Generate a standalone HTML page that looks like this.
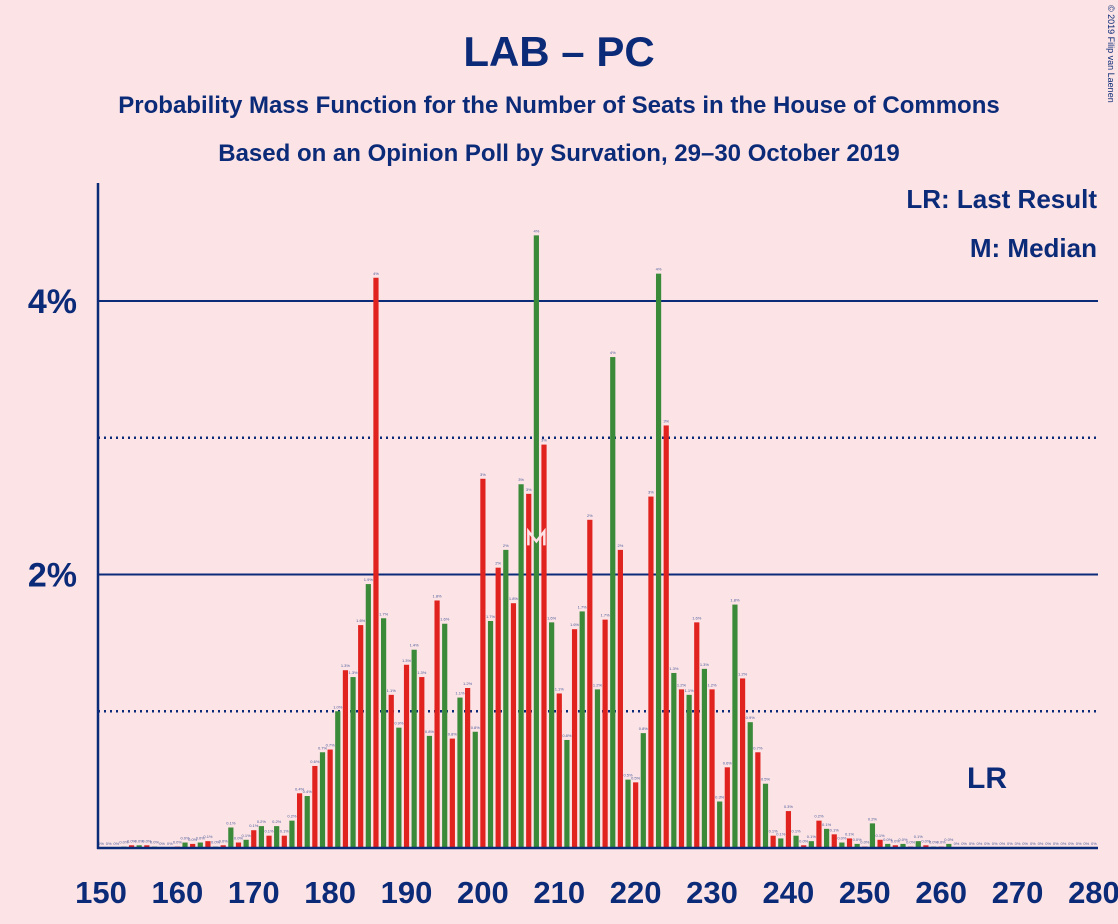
<!DOCTYPE html>
<html><head><meta charset="utf-8"><style>
body{margin:0;background:#fce4e6;}
svg{display:block;font-family:"Liberation Sans",sans-serif;}
</style></head><body>
<svg id="c" width="1118" height="924">
<rect width="1118" height="924" fill="#fce4e6"/>
<text x="559" y="66" text-anchor="middle" font-size="42" font-weight="bold" fill="#0b2a78">LAB – PC</text>
<text x="559" y="113" text-anchor="middle" font-size="24" font-weight="bold" fill="#0b2a78">Probability Mass Function for the Number of Seats in the House of Commons</text>
<text x="559" y="161" text-anchor="middle" font-size="24" font-weight="bold" fill="#0b2a78">Based on an Opinion Poll by Survation, 29–30 October 2019</text>
<text x="1108" y="5" font-size="9" fill="#0b2a78" transform="rotate(90 1108 5)">© 2019 Filip van Laenen</text>
<text x="1097" y="208" text-anchor="end" font-size="26" font-weight="bold" fill="#0b2a78">LR: Last Result</text>
<text x="1097" y="257" text-anchor="end" font-size="26" font-weight="bold" fill="#0b2a78">M: Median</text>
<g id="grid"></g><g id="bars"></g><g id="axes"></g>
</svg>
<script>
const seats=[];for(let s=150;s<=280;s++)seats.push(s);
const probs=[0,0,0,0.01,0.02,0.02,0.02,0.01,0,0,0.01,0.04,0.03,0.04,0.05,0.01,0.02,0.15,0.04,0.06,0.13,0.16,0.09,0.16,0.09,0.2,0.4,0.38,0.6,0.7,0.72,1.0,1.3,1.25,1.63,1.93,4.17,1.68,1.12,0.88,1.34,1.45,1.25,0.82,1.81,1.64,0.8,1.1,1.17,0.85,2.7,1.66,2.05,2.18,1.79,2.66,2.59,4.48,2.95,1.65,1.13,0.79,1.6,1.73,2.4,1.16,1.67,3.59,2.18,0.5,0.48,0.84,2.57,4.2,3.09,1.28,1.16,1.12,1.65,1.31,1.16,0.34,0.59,1.78,1.24,0.92,0.7,0.47,0.09,0.07,0.27,0.09,0.02,0.05,0.2,0.14,0.1,0.04,0.07,0.03,0.01,0.18,0.06,0.03,0.02,0.03,0.01,0.05,0.02,0.01,0.01,0.03,0,0,0,0,0,0,0,0,0,0,0,0,0,0,0,0,0,0,0];
const xTicks=[150,160,170,180,190,200,210,220,230,240,250,260,270,280];
const yTicks=[2,4];
const yGrid=[1,2,3,4];
const median=207, lastResult=266;
const NS="http://www.w3.org/2000/svg";
const X=s=>101+(s-150)*7.638;
const Y=v=>848-v*136.75;
function el(t,a,p){const e=document.createElementNS(NS,t);for(const k in a)e.setAttribute(k,a[k]);p.appendChild(e);return e;}
const grid=document.getElementById('grid'),bars=document.getElementById('bars'),axes=document.getElementById('axes');
yGrid.forEach(v=>{
 const l=el('line',{x1:98,x2:1098,y1:Y(v),y2:Y(v),stroke:'#0b2a78','stroke-width':v%2===0?2:2.5,'stroke-dasharray':v%2===0?'':'2,4'},grid);
 
 
});
yTicks.forEach(v=>{
 const t=el('text',{x:77,y:Y(v)+12,'text-anchor':'end','font-size':34,'font-weight':'bold',fill:'#0b2a78'},axes);t.textContent=v+'%';
 
 
});
seats.forEach((s,i)=>{
 const v=probs[i];const x=X(s);
 const r=el('rect',{x:x-2.6,y:Y(v),width:5.2,height:v*136.75,fill:s%2===0?'#e0231f':'#3a8a3a'},bars);
 
 
 const t=el('text',{x:x,y:Y(v)-3,'text-anchor':'middle','font-size':4,fill:'#4a5a9a'},bars);
 t.textContent=v===0?'0%':(v>=1.95?Math.round(v)+'%':v.toFixed(1)+'%');
 
 
});
{const x=X(median),y=Y(probs[seats.indexOf(median)])+310;
 const m=el('polyline',{points:`${x-8},${y} ${x-8},${y-14} ${x},${y-4} ${x+8},${y-14} ${x+8},${y}`,fill:'none',stroke:'#fce4e6','stroke-width':2.5},bars);
 
 }
{const t=el('text',{x:X(lastResult),y:788,'text-anchor':'middle','font-size':30,'font-weight':'bold',fill:'#0b2a78'},axes);t.textContent='LR';
 
 }
xTicks.forEach(s=>{
 const t=el('text',{x:X(s),y:903,'text-anchor':'middle','font-size':31,'font-weight':'bold',fill:'#0b2a78'},axes);t.textContent=s;
 
 
});
{const a=el('line',{x1:98,x2:98,y1:183,y2:849,stroke:'#0b2a78','stroke-width':2.5},axes);
 
 
 const b=el('line',{x1:97,x2:1098,y1:848,y2:848,stroke:'#0b2a78','stroke-width':2.5},axes);
 
 }
</script>
</body></html>
